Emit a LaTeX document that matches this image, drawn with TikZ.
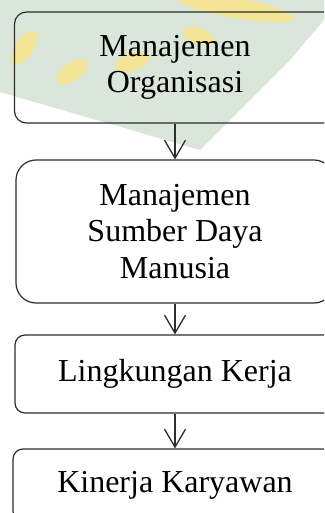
\documentclass[tikz,border=0pt]{standalone}
\usepackage{fontspec}
\setmainfont{Liberation Serif}
\usetikzlibrary{arrows.meta}
\definecolor{wmgreen}{RGB}{218,230,218}
\definecolor{wmyellow}{RGB}{244,228,150}
\definecolor{boxline}{RGB}{45,45,45}
\begin{document}
\begin{tikzpicture}[x=1pt,y=-1pt,
  box/.style={draw=boxline,line width=1.2pt,align=center,inner sep=0pt,
    font=\fontsize{32}{36.5}\selectfont},
  arrow/.style={draw=boxline,line width=1.3pt,
    -{Straight Barb[length=18pt,width=21pt,line width=1.3pt]}}]
\clip (0,0) rectangle (324,513);
\fill[wmgreen] (0,0) -- (324,0) -- (324,20) -- (290,60) -- (200,150) -- (0,92) -- cycle;
\fill[wmyellow,rotate around={55:(24,48)}] (24,48) ellipse (20 and 9);
\fill[wmyellow,rotate around={35:(72,72)}] (72,72) ellipse (18 and 9);
\fill[wmyellow,rotate around={20:(132,62)}] (132,62) ellipse (18 and 9);
\fill[wmyellow,rotate around={-20:(198,36)}] (198,36) ellipse (16 and 8);
\fill[wmyellow,rotate around={-10:(235,8)}] (235,8) ellipse (60 and 10);
\node[box,rounded corners=12pt,minimum width=321pt,minimum height=111pt] (org) at (175,67.5) {Manajemen\\Organisasi};
\node[box,rounded corners=20pt,minimum width=318pt,minimum height=143pt] (sdm) at (175,231.5) {Manajemen\\Sumber Daya\\Manusia};
\node[box,rounded corners=10pt,minimum width=320pt,minimum height=78pt] (kerja) at (175,374) {Lingkungan Kerja};
\node[box,rounded corners=10pt,minimum width=324pt,minimum height=72pt] (kinerja) at (175,485) {Kinerja Karyawan};
\draw[arrow] (org) -- (sdm);
\draw[arrow] (sdm) -- (kerja);
\draw[arrow] (kerja) -- (kinerja);
\end{tikzpicture}
\end{document}
